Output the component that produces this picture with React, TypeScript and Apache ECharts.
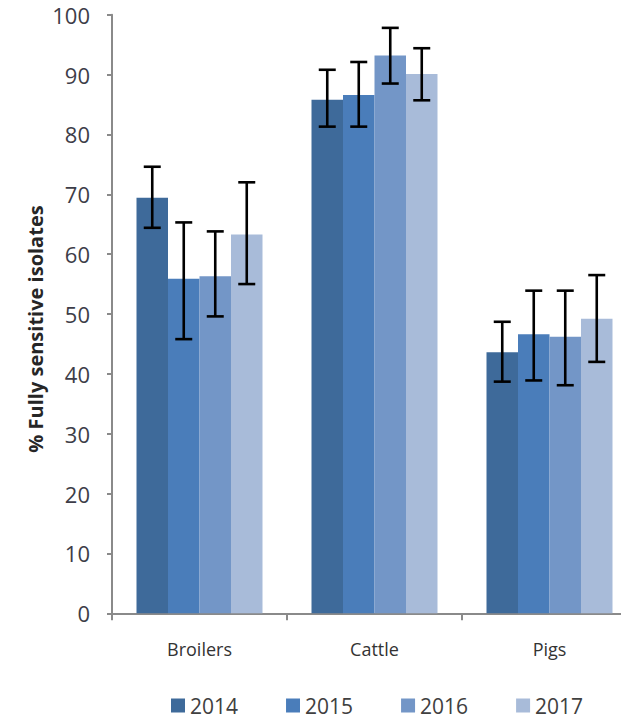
import React, { useEffect, useRef } from "react";
import * as echarts from "echarts";

const categories = ["Broilers", "Cattle", "Pigs"];
const years = ["2014", "2015", "2016", "2017"];
const values2014 = [69.4, 85.8, 43.6];
const values2015 = [55.9, 86.6, 46.6];
const values2016 = [56.3, 93.2, 46.2];
const values2017 = [63.3, 90.1, 49.2];
const low2014 = [64.4, 81.3, 38.7];
const high2014 = [74.6, 90.8, 48.7];
const low2015 = [45.8, 81.3, 38.9];
const high2015 = [65.3, 92.1, 53.9];
const low2016 = [49.6, 88.5, 38.1];
const high2016 = [63.8, 97.8, 53.9];
const low2017 = [55.0, 85.7, 42.0];
const high2017 = [72.0, 94.4, 56.5];
const yTicks = [0, 10, 20, 30, 40, 50, 60, 70, 80, 90, 100];

const colors = ["#3E6A9A", "#4A7DBA", "#7396C7", "#A8BBD9"];
const BAR_W = 31.5;
const FONT = "'Open Sans', 'DejaVu Sans', sans-serif";

export default function App() {
  const ref = useRef<HTMLDivElement>(null);
  useEffect(() => {
    if (!ref.current) return;
    const chart = echarts.init(ref.current, null, { renderer: "svg" });
    const vals = [values2014, values2015, values2016, values2017];
    const lows = [low2014, low2015, low2016, low2017];
    const highs = [high2014, high2015, high2016, high2017];

    const barSeries = years.map((y, i) => ({
      name: y,
      type: "bar",
      data: vals[i],
      barWidth: BAR_W,
      barGap: "0%",
      itemStyle: { color: colors[i] },
      z: 2,
    }));

    const errSeries = years.map((y, i) => ({
      name: "err" + y,
      type: "custom",
      z: 5,
      data: categories.map((_, c) => [c, lows[i][c], highs[i][c]]),
      encode: { x: 0, y: [1, 2] },
      renderItem: (params: any, api: any) => {
        const c = api.value(0);
        const lo = api.coord([c, api.value(1)]);
        const hi = api.coord([c, api.value(2)]);
        const x = lo[0] + (i - 1.5) * BAR_W;
        const cap = 8.5;
        const style = { stroke: "#000", lineWidth: 2.6 };
        return {
          type: "group",
          children: [
            { type: "line", shape: { x1: x, y1: lo[1], x2: x, y2: hi[1] }, style },
            { type: "line", shape: { x1: x - cap, y1: hi[1], x2: x + cap, y2: hi[1] }, style },
            { type: "line", shape: { x1: x - cap, y1: lo[1], x2: x + cap, y2: lo[1] }, style },
          ],
        };
      },
    }));

    chart.setOption({
      animation: false,
      backgroundColor: "#ffffff",
      grid: { left: 112, right: 3, top: 14.7, bottom: 104.7, containLabel: false },
      xAxis: {
        type: "category",
        data: categories,
        axisLine: { lineStyle: { color: "#8a8a8a", width: 2 } },
        axisTick: { show: true, length: 7, lineStyle: { color: "#8a8a8a", width: 2 } },
        axisLabel: { color: "#333333", fontSize: 18, fontFamily: FONT, margin: 27 },
      },
      yAxis: {
        type: "value",
        min: 0,
        max: 100,
        interval: 10,
        splitLine: { show: false },
        axisLine: { show: true, lineStyle: { color: "#8a8a8a", width: 2 } },
        axisTick: { show: true, length: 5, lineStyle: { color: "#8a8a8a", width: 2 } },
        axisLabel: {
          color: "#3d3d48",
          fontSize: 22,
          fontFamily: FONT,
          margin: 22,
          formatter: (v: number) => (yTicks.includes(v) ? String(v) : ""),
        },
      },
      legend: {
        data: years,
        left: 166,
        top: 690,
        icon: "rect",
        itemWidth: 14,
        itemHeight: 14,
        itemGap: 48,
        textStyle: { color: "#404040", fontSize: 21, fontFamily: FONT },
      },
      graphic: [
        {
          type: "text",
          x: 35,
          y: 329,
          rotation: Math.PI / 2,
          style: {
            text: "% Fully sensitive isolates",
            fontSize: 20,
            fontWeight: "bold",
            fontFamily: FONT,
            fill: "#262626",
            align: "center",
            verticalAlign: "middle",
          },
        },
      ],
      series: [...barSeries, ...errSeries],
    });
    return () => chart.dispose();
  }, []);
  return (
    <div style={{ position: "absolute", left: 0, top: 0, width: 621, height: 718, overflow: "hidden" }}>
      <div ref={ref} style={{ width: 640, height: 718 }} />
    </div>
  );
}
